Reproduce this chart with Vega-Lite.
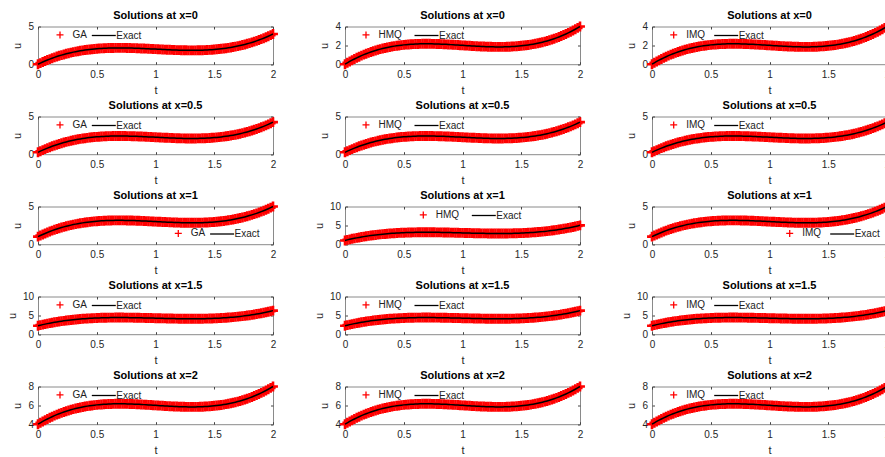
{
"$schema":"https://vega.github.io/schema/vega-lite/v6.json",
"bounds":"flush",
"padding":{"left":5,"top":8.5,"right":0,"bottom":0},
"spacing":90,
"background":"#ffffff",
"resolve":{"scale":{"color":"independent","shape":"independent"},"legend":{"color":"independent","shape":"independent"}},
"data":{"name":"d"},
"datasets":{"d":[
{"t":0,"u0":0,"u05":0.25,"u1":1,"u15":2.25,"u2":4},
{"t":0.02,"u0":0.149,"u05":0.399,"u1":1.149,"u15":2.399,"u2":4.149},
{"t":0.04,"u0":0.291,"u05":0.541,"u1":1.291,"u15":2.541,"u2":4.291},
{"t":0.06,"u0":0.426,"u05":0.676,"u1":1.426,"u15":2.676,"u2":4.426},
{"t":0.08,"u0":0.556,"u05":0.806,"u1":1.556,"u15":2.806,"u2":4.556},
{"t":0.1,"u0":0.679,"u05":0.929,"u1":1.679,"u15":2.929,"u2":4.679},
{"t":0.12,"u0":0.796,"u05":1.046,"u1":1.796,"u15":3.046,"u2":4.796},
{"t":0.14,"u0":0.907,"u05":1.157,"u1":1.907,"u15":3.157,"u2":4.907},
{"t":0.16,"u0":1.012,"u05":1.262,"u1":2.012,"u15":3.262,"u2":5.012},
{"t":0.18,"u0":1.112,"u05":1.362,"u1":2.112,"u15":3.362,"u2":5.112},
{"t":0.2,"u0":1.206,"u05":1.456,"u1":2.206,"u15":3.456,"u2":5.206},
{"t":0.22,"u0":1.295,"u05":1.545,"u1":2.295,"u15":3.545,"u2":5.295},
{"t":0.24,"u0":1.379,"u05":1.629,"u1":2.379,"u15":3.629,"u2":5.379},
{"t":0.26,"u0":1.457,"u05":1.707,"u1":2.457,"u15":3.707,"u2":5.457},
{"t":0.28,"u0":1.531,"u05":1.781,"u1":2.531,"u15":3.781,"u2":5.531},
{"t":0.3,"u0":1.6,"u05":1.85,"u1":2.6,"u15":3.85,"u2":5.6},
{"t":0.32,"u0":1.664,"u05":1.914,"u1":2.664,"u15":3.914,"u2":5.664},
{"t":0.34,"u0":1.723,"u05":1.973,"u1":2.723,"u15":3.973,"u2":5.723},
{"t":0.36,"u0":1.778,"u05":2.028,"u1":2.778,"u15":4.028,"u2":5.778},
{"t":0.38,"u0":1.829,"u05":2.079,"u1":2.829,"u15":4.079,"u2":5.829},
{"t":0.4,"u0":1.875,"u05":2.125,"u1":2.875,"u15":4.125,"u2":5.875},
{"t":0.42,"u0":1.918,"u05":2.168,"u1":2.918,"u15":4.168,"u2":5.918},
{"t":0.44,"u0":1.956,"u05":2.206,"u1":2.956,"u15":4.206,"u2":5.956},
{"t":0.46,"u0":1.991,"u05":2.241,"u1":2.991,"u15":4.241,"u2":5.991},
{"t":0.48,"u0":2.022,"u05":2.272,"u1":3.022,"u15":4.272,"u2":6.022},
{"t":0.5,"u0":2.05,"u05":2.3,"u1":3.05,"u15":4.3,"u2":6.05},
{"t":0.52,"u0":2.074,"u05":2.324,"u1":3.074,"u15":4.324,"u2":6.074},
{"t":0.54,"u0":2.095,"u05":2.345,"u1":3.095,"u15":4.345,"u2":6.095},
{"t":0.56,"u0":2.113,"u05":2.363,"u1":3.113,"u15":4.363,"u2":6.113},
{"t":0.58,"u0":2.129,"u05":2.379,"u1":3.129,"u15":4.379,"u2":6.129},
{"t":0.6,"u0":2.141,"u05":2.391,"u1":3.141,"u15":4.391,"u2":6.141},
{"t":0.62,"u0":2.15,"u05":2.4,"u1":3.15,"u15":4.4,"u2":6.15},
{"t":0.64,"u0":2.157,"u05":2.407,"u1":3.157,"u15":4.407,"u2":6.157},
{"t":0.66,"u0":2.162,"u05":2.412,"u1":3.162,"u15":4.412,"u2":6.162},
{"t":0.68,"u0":2.164,"u05":2.414,"u1":3.164,"u15":4.414,"u2":6.164},
{"t":0.7,"u0":2.164,"u05":2.414,"u1":3.164,"u15":4.414,"u2":6.164},
{"t":0.72,"u0":2.163,"u05":2.413,"u1":3.163,"u15":4.413,"u2":6.163},
{"t":0.74,"u0":2.159,"u05":2.409,"u1":3.159,"u15":4.409,"u2":6.159},
{"t":0.76,"u0":2.153,"u05":2.403,"u1":3.153,"u15":4.403,"u2":6.153},
{"t":0.78,"u0":2.146,"u05":2.396,"u1":3.146,"u15":4.396,"u2":6.146},
{"t":0.8,"u0":2.138,"u05":2.388,"u1":3.138,"u15":4.388,"u2":6.138},
{"t":0.82,"u0":2.128,"u05":2.378,"u1":3.128,"u15":4.378,"u2":6.128},
{"t":0.84,"u0":2.117,"u05":2.367,"u1":3.117,"u15":4.367,"u2":6.117},
{"t":0.86,"u0":2.104,"u05":2.354,"u1":3.104,"u15":4.354,"u2":6.104},
{"t":0.88,"u0":2.091,"u05":2.341,"u1":3.091,"u15":4.341,"u2":6.091},
{"t":0.9,"u0":2.077,"u05":2.327,"u1":3.077,"u15":4.327,"u2":6.077},
{"t":0.92,"u0":2.063,"u05":2.313,"u1":3.063,"u15":4.313,"u2":6.063},
{"t":0.94,"u0":2.047,"u05":2.297,"u1":3.047,"u15":4.297,"u2":6.047},
{"t":0.96,"u0":2.032,"u05":2.282,"u1":3.032,"u15":4.282,"u2":6.032},
{"t":0.98,"u0":2.016,"u05":2.266,"u1":3.016,"u15":4.266,"u2":6.016},
{"t":1,"u0":2,"u05":2.25,"u1":3,"u15":4.25,"u2":6},
{"t":1.02,"u0":1.984,"u05":2.234,"u1":2.984,"u15":4.234,"u2":5.984},
{"t":1.04,"u0":1.968,"u05":2.218,"u1":2.968,"u15":4.218,"u2":5.968},
{"t":1.06,"u0":1.953,"u05":2.203,"u1":2.953,"u15":4.203,"u2":5.953},
{"t":1.08,"u0":1.937,"u05":2.187,"u1":2.937,"u15":4.187,"u2":5.937},
{"t":1.1,"u0":1.923,"u05":2.173,"u1":2.923,"u15":4.173,"u2":5.923},
{"t":1.12,"u0":1.909,"u05":2.159,"u1":2.909,"u15":4.159,"u2":5.909},
{"t":1.14,"u0":1.896,"u05":2.146,"u1":2.896,"u15":4.146,"u2":5.896},
{"t":1.16,"u0":1.883,"u05":2.133,"u1":2.883,"u15":4.133,"u2":5.883},
{"t":1.18,"u0":1.872,"u05":2.122,"u1":2.872,"u15":4.122,"u2":5.872},
{"t":1.2,"u0":1.862,"u05":2.112,"u1":2.862,"u15":4.112,"u2":5.862},
{"t":1.22,"u0":1.854,"u05":2.104,"u1":2.854,"u15":4.104,"u2":5.854},
{"t":1.24,"u0":1.847,"u05":2.097,"u1":2.847,"u15":4.097,"u2":5.847},
{"t":1.26,"u0":1.841,"u05":2.091,"u1":2.841,"u15":4.091,"u2":5.841},
{"t":1.28,"u0":1.837,"u05":2.087,"u1":2.837,"u15":4.087,"u2":5.837},
{"t":1.3,"u0":1.836,"u05":2.086,"u1":2.836,"u15":4.086,"u2":5.836},
{"t":1.32,"u0":1.836,"u05":2.086,"u1":2.836,"u15":4.086,"u2":5.836},
{"t":1.34,"u0":1.838,"u05":2.088,"u1":2.838,"u15":4.088,"u2":5.838},
{"t":1.36,"u0":1.843,"u05":2.093,"u1":2.843,"u15":4.093,"u2":5.843},
{"t":1.38,"u0":1.85,"u05":2.1,"u1":2.85,"u15":4.1,"u2":5.85},
{"t":1.4,"u0":1.859,"u05":2.109,"u1":2.859,"u15":4.109,"u2":5.859},
{"t":1.42,"u0":1.871,"u05":2.121,"u1":2.871,"u15":4.121,"u2":5.871},
{"t":1.44,"u0":1.887,"u05":2.137,"u1":2.887,"u15":4.137,"u2":5.887},
{"t":1.46,"u0":1.905,"u05":2.155,"u1":2.905,"u15":4.155,"u2":5.905},
{"t":1.48,"u0":1.926,"u05":2.176,"u1":2.926,"u15":4.176,"u2":5.926},
{"t":1.5,"u0":1.95,"u05":2.2,"u1":2.95,"u15":4.2,"u2":5.95},
{"t":1.52,"u0":1.978,"u05":2.228,"u1":2.978,"u15":4.228,"u2":5.978},
{"t":1.54,"u0":2.009,"u05":2.259,"u1":3.009,"u15":4.259,"u2":6.009},
{"t":1.56,"u0":2.044,"u05":2.294,"u1":3.044,"u15":4.294,"u2":6.044},
{"t":1.58,"u0":2.082,"u05":2.332,"u1":3.082,"u15":4.332,"u2":6.082},
{"t":1.6,"u0":2.125,"u05":2.375,"u1":3.125,"u15":4.375,"u2":6.125},
{"t":1.62,"u0":2.171,"u05":2.421,"u1":3.171,"u15":4.421,"u2":6.171},
{"t":1.64,"u0":2.222,"u05":2.472,"u1":3.222,"u15":4.472,"u2":6.222},
{"t":1.66,"u0":2.277,"u05":2.527,"u1":3.277,"u15":4.527,"u2":6.277},
{"t":1.68,"u0":2.336,"u05":2.586,"u1":3.336,"u15":4.586,"u2":6.336},
{"t":1.7,"u0":2.4,"u05":2.65,"u1":3.4,"u15":4.65,"u2":6.4},
{"t":1.72,"u0":2.469,"u05":2.719,"u1":3.469,"u15":4.719,"u2":6.469},
{"t":1.74,"u0":2.543,"u05":2.793,"u1":3.543,"u15":4.793,"u2":6.543},
{"t":1.76,"u0":2.621,"u05":2.871,"u1":3.621,"u15":4.871,"u2":6.621},
{"t":1.78,"u0":2.705,"u05":2.955,"u1":3.705,"u15":4.955,"u2":6.705},
{"t":1.8,"u0":2.794,"u05":3.044,"u1":3.794,"u15":5.044,"u2":6.794},
{"t":1.82,"u0":2.888,"u05":3.138,"u1":3.888,"u15":5.138,"u2":6.888},
{"t":1.84,"u0":2.988,"u05":3.238,"u1":3.988,"u15":5.238,"u2":6.988},
{"t":1.86,"u0":3.093,"u05":3.343,"u1":4.093,"u15":5.343,"u2":7.093},
{"t":1.88,"u0":3.204,"u05":3.454,"u1":4.204,"u15":5.454,"u2":7.204},
{"t":1.9,"u0":3.321,"u05":3.571,"u1":4.321,"u15":5.571,"u2":7.321},
{"t":1.92,"u0":3.444,"u05":3.694,"u1":4.444,"u15":5.694,"u2":7.444},
{"t":1.94,"u0":3.574,"u05":3.824,"u1":4.574,"u15":5.824,"u2":7.574},
{"t":1.96,"u0":3.709,"u05":3.959,"u1":4.709,"u15":5.959,"u2":7.709},
{"t":1.98,"u0":3.851,"u05":4.101,"u1":4.851,"u15":6.101,"u2":7.851},
{"t":2,"u0":4,"u05":4.25,"u1":5,"u15":6.25,"u2":8}
]},
"config":{
"font":"Liberation Sans",
"view":{"stroke":"#8a8a8a","strokeWidth":1},
"axis":{"grid":false,"domain":false,"tickColor":"#444444","tickSize":-2.5,"tickWidth":1,"labelFont":"Liberation Sans","labelFontSize":10,"labelColor":"#262626","labelPadding":8,"titleFont":"Liberation Sans","titleFontSize":11,"titleFontWeight":"normal","titleColor":"#262626","labelFlush":false},
"axisX":{"titlePadding":5},
"axisY":{"titlePadding":5,"labelPadding":7},
"title":{"font":"Liberation Sans","fontSize":11,"fontWeight":"bold","color":"#000000","offset":0.8},
"legend":{"orient":"none","direction":"horizontal","padding":0,"labelFont":"Liberation Sans","labelFontSize":10,"labelColor":"#222222","columnPadding":5,"labelOffset":6.5,"symbolSize":100,"symbolStrokeWidth":1.3}
},
"vconcat":[
{"resolve":{"scale":{"color":"independent","shape":"independent"},"legend":{"color":"independent","shape":"independent"}},"hconcat":[
{"width":235,"height":37.7,"title":{"text":"Solutions at x=0","offset":0.8},"resolve":{"axis":{"x":"independent","y":"independent"}},"layer":[
{"mark":{"type":"point","size":200,"filled":false,"strokeWidth":2.6,"opacity":1},"encoding":{"x":{"field":"t","type":"quantitative","scale":{"domain":[0,2],"nice":false},"axis":{"values":[0,0.5,1,1.5,2],"format":"~g","title":"t"}},"y":{"field":"u0","type":"quantitative","scale":{"domain":[0,5],"nice":false},"axis":{"values":[0,5],"title":"u"}},"shape":{"datum":"GA","type":"nominal","scale":{"domain":["GA","Exact"],"range":["M-0.7,0H0.7M0,-0.7V0.7","M-2.4,0H2.4"]},"legend":{"title":null,"legendX":16,"legendY":2,"columnPadding":1.8}},"color":{"datum":"GA","type":"nominal","scale":{"domain":["GA","Exact"],"range":["#ff0000","#000000"]},"legend":{"title":null,"legendX":16,"legendY":2,"columnPadding":1.8,"encode":{"symbols":{"stroke":{"signal":"datum.value === 'Exact' ? '#000000' : '#ff0000'"},"fill":{"value":"transparent"},"strokeWidth":{"value":1.3},"opacity":{"value":1}}}}}}},
{"mark":{"type":"line","strokeWidth":1.5},"encoding":{"x":{"field":"t","type":"quantitative","axis":{"orient":"top","labels":false,"title":null,"values":[0,0.5,1,1.5,2]}},"y":{"field":"u0","type":"quantitative","axis":{"orient":"right","labels":false,"title":null,"values":[0,5]}},"color":{"datum":"Exact","type":"nominal"}}}]},
{"width":235,"height":37.7,"title":{"text":"Solutions at x=0","offset":-4.95},"resolve":{"axis":{"x":"independent","y":"independent"}},"layer":[
{"mark":{"type":"point","size":200,"filled":false,"strokeWidth":2.6,"opacity":1},"encoding":{"x":{"field":"t","type":"quantitative","scale":{"domain":[0,2],"nice":false},"axis":{"values":[0,0.5,1,1.5,2],"format":"~g","title":"t"}},"y":{"field":"u0","type":"quantitative","scale":{"domain":[0,4],"nice":false},"axis":{"values":[0,2,4],"title":"u"}},"shape":{"datum":"HMQ","type":"nominal","scale":{"domain":["HMQ","Exact"],"range":["M-0.7,0H0.7M0,-0.7V0.7","M-2.4,0H2.4"]},"legend":{"title":null,"legendX":15,"legendY":2,"columnPadding":9.5}},"color":{"datum":"HMQ","type":"nominal","scale":{"domain":["HMQ","Exact"],"range":["#ff0000","#000000"]},"legend":{"title":null,"legendX":15,"legendY":2,"columnPadding":9.5,"encode":{"symbols":{"stroke":{"signal":"datum.value === 'Exact' ? '#000000' : '#ff0000'"},"fill":{"value":"transparent"},"strokeWidth":{"value":1.3},"opacity":{"value":1}}}}}}},
{"mark":{"type":"line","strokeWidth":1.5},"encoding":{"x":{"field":"t","type":"quantitative","axis":{"orient":"top","labels":false,"title":null,"values":[0,0.5,1,1.5,2]}},"y":{"field":"u0","type":"quantitative","axis":{"orient":"right","labels":false,"title":null,"values":[0,2,4]}},"color":{"datum":"Exact","type":"nominal"}}}]},
{"width":235,"height":37.7,"title":{"text":"Solutions at x=0","offset":-4.95},"resolve":{"axis":{"x":"independent","y":"independent"}},"layer":[
{"mark":{"type":"point","size":200,"filled":false,"strokeWidth":2.6,"opacity":1},"encoding":{"x":{"field":"t","type":"quantitative","scale":{"domain":[0,2],"nice":false},"axis":{"values":[0,0.5,1,1.5,2],"format":"~g","title":"t"}},"y":{"field":"u0","type":"quantitative","scale":{"domain":[0,4],"nice":false},"axis":{"values":[0,2,4],"title":"u"}},"shape":{"datum":"IMQ","type":"nominal","scale":{"domain":["IMQ","Exact"],"range":["M-0.7,0H0.7M0,-0.7V0.7","M-2.4,0H2.4"]},"legend":{"title":null,"legendX":15.7,"legendY":2,"columnPadding":5.5}},"color":{"datum":"IMQ","type":"nominal","scale":{"domain":["IMQ","Exact"],"range":["#ff0000","#000000"]},"legend":{"title":null,"legendX":15.7,"legendY":2,"columnPadding":5.5,"encode":{"symbols":{"stroke":{"signal":"datum.value === 'Exact' ? '#000000' : '#ff0000'"},"fill":{"value":"transparent"},"strokeWidth":{"value":1.3},"opacity":{"value":1}}}}}}},
{"mark":{"type":"line","strokeWidth":1.5},"encoding":{"x":{"field":"t","type":"quantitative","axis":{"orient":"top","labels":false,"title":null,"values":[0,0.5,1,1.5,2]}},"y":{"field":"u0","type":"quantitative","axis":{"orient":"right","labels":false,"title":null,"values":[0,2,4]}},"color":{"datum":"Exact","type":"nominal"}}}]}
],"spacing":72,"bounds":"flush"},
{"resolve":{"scale":{"color":"independent","shape":"independent"},"legend":{"color":"independent","shape":"independent"}},"hconcat":[
{"width":235,"height":37.7,"title":{"text":"Solutions at x=0.5","offset":0.8},"resolve":{"axis":{"x":"independent","y":"independent"}},"layer":[
{"mark":{"type":"point","size":200,"filled":false,"strokeWidth":2.6,"opacity":1},"encoding":{"x":{"field":"t","type":"quantitative","scale":{"domain":[0,2],"nice":false},"axis":{"values":[0,0.5,1,1.5,2],"format":"~g","title":"t"}},"y":{"field":"u05","type":"quantitative","scale":{"domain":[0,5],"nice":false},"axis":{"values":[0,5],"title":"u"}},"shape":{"datum":"GA","type":"nominal","scale":{"domain":["GA","Exact"],"range":["M-0.7,0H0.7M0,-0.7V0.7","M-2.4,0H2.4"]},"legend":{"title":null,"legendX":16,"legendY":2,"columnPadding":1.8}},"color":{"datum":"GA","type":"nominal","scale":{"domain":["GA","Exact"],"range":["#ff0000","#000000"]},"legend":{"title":null,"legendX":16,"legendY":2,"columnPadding":1.8,"encode":{"symbols":{"stroke":{"signal":"datum.value === 'Exact' ? '#000000' : '#ff0000'"},"fill":{"value":"transparent"},"strokeWidth":{"value":1.3},"opacity":{"value":1}}}}}}},
{"mark":{"type":"line","strokeWidth":1.5},"encoding":{"x":{"field":"t","type":"quantitative","axis":{"orient":"top","labels":false,"title":null,"values":[0,0.5,1,1.5,2]}},"y":{"field":"u05","type":"quantitative","axis":{"orient":"right","labels":false,"title":null,"values":[0,5]}},"color":{"datum":"Exact","type":"nominal"}}}]},
{"width":235,"height":37.7,"title":{"text":"Solutions at x=0.5","offset":0.8},"resolve":{"axis":{"x":"independent","y":"independent"}},"layer":[
{"mark":{"type":"point","size":200,"filled":false,"strokeWidth":2.6,"opacity":1},"encoding":{"x":{"field":"t","type":"quantitative","scale":{"domain":[0,2],"nice":false},"axis":{"values":[0,0.5,1,1.5,2],"format":"~g","title":"t"}},"y":{"field":"u05","type":"quantitative","scale":{"domain":[0,5],"nice":false},"axis":{"values":[0,5],"title":"u"}},"shape":{"datum":"HMQ","type":"nominal","scale":{"domain":["HMQ","Exact"],"range":["M-0.7,0H0.7M0,-0.7V0.7","M-2.4,0H2.4"]},"legend":{"title":null,"legendX":15,"legendY":2,"columnPadding":9.5}},"color":{"datum":"HMQ","type":"nominal","scale":{"domain":["HMQ","Exact"],"range":["#ff0000","#000000"]},"legend":{"title":null,"legendX":15,"legendY":2,"columnPadding":9.5,"encode":{"symbols":{"stroke":{"signal":"datum.value === 'Exact' ? '#000000' : '#ff0000'"},"fill":{"value":"transparent"},"strokeWidth":{"value":1.3},"opacity":{"value":1}}}}}}},
{"mark":{"type":"line","strokeWidth":1.5},"encoding":{"x":{"field":"t","type":"quantitative","axis":{"orient":"top","labels":false,"title":null,"values":[0,0.5,1,1.5,2]}},"y":{"field":"u05","type":"quantitative","axis":{"orient":"right","labels":false,"title":null,"values":[0,5]}},"color":{"datum":"Exact","type":"nominal"}}}]},
{"width":235,"height":37.7,"title":{"text":"Solutions at x=0.5","offset":0.8},"resolve":{"axis":{"x":"independent","y":"independent"}},"layer":[
{"mark":{"type":"point","size":200,"filled":false,"strokeWidth":2.6,"opacity":1},"encoding":{"x":{"field":"t","type":"quantitative","scale":{"domain":[0,2],"nice":false},"axis":{"values":[0,0.5,1,1.5,2],"format":"~g","title":"t"}},"y":{"field":"u05","type":"quantitative","scale":{"domain":[0,5],"nice":false},"axis":{"values":[0,5],"title":"u"}},"shape":{"datum":"IMQ","type":"nominal","scale":{"domain":["IMQ","Exact"],"range":["M-0.7,0H0.7M0,-0.7V0.7","M-2.4,0H2.4"]},"legend":{"title":null,"legendX":15.7,"legendY":2,"columnPadding":5.5}},"color":{"datum":"IMQ","type":"nominal","scale":{"domain":["IMQ","Exact"],"range":["#ff0000","#000000"]},"legend":{"title":null,"legendX":15.7,"legendY":2,"columnPadding":5.5,"encode":{"symbols":{"stroke":{"signal":"datum.value === 'Exact' ? '#000000' : '#ff0000'"},"fill":{"value":"transparent"},"strokeWidth":{"value":1.3},"opacity":{"value":1}}}}}}},
{"mark":{"type":"line","strokeWidth":1.5},"encoding":{"x":{"field":"t","type":"quantitative","axis":{"orient":"top","labels":false,"title":null,"values":[0,0.5,1,1.5,2]}},"y":{"field":"u05","type":"quantitative","axis":{"orient":"right","labels":false,"title":null,"values":[0,5]}},"color":{"datum":"Exact","type":"nominal"}}}]}
],"spacing":72,"bounds":"flush"},
{"resolve":{"scale":{"color":"independent","shape":"independent"},"legend":{"color":"independent","shape":"independent"}},"hconcat":[
{"width":235,"height":37.7,"title":{"text":"Solutions at x=1","offset":-4.95},"resolve":{"axis":{"x":"independent","y":"independent"}},"layer":[
{"mark":{"type":"point","size":200,"filled":false,"strokeWidth":2.6,"opacity":1},"encoding":{"x":{"field":"t","type":"quantitative","scale":{"domain":[0,2],"nice":false},"axis":{"values":[0,0.5,1,1.5,2],"format":"~g","title":"t"}},"y":{"field":"u1","type":"quantitative","scale":{"domain":[0,5],"nice":false},"axis":{"values":[0,5],"title":"u"}},"shape":{"datum":"GA","type":"nominal","scale":{"domain":["GA","Exact"],"range":["M-0.7,0H0.7M0,-0.7V0.7","M-2.4,0H2.4"]},"legend":{"title":null,"legendX":134.3,"legendY":20.5,"columnPadding":1.8}},"color":{"datum":"GA","type":"nominal","scale":{"domain":["GA","Exact"],"range":["#ff0000","#000000"]},"legend":{"title":null,"legendX":134.3,"legendY":20.5,"columnPadding":1.8,"encode":{"symbols":{"stroke":{"signal":"datum.value === 'Exact' ? '#000000' : '#ff0000'"},"fill":{"value":"transparent"},"strokeWidth":{"value":1.3},"opacity":{"value":1}}}}}}},
{"mark":{"type":"line","strokeWidth":1.5},"encoding":{"x":{"field":"t","type":"quantitative","axis":{"orient":"top","labels":false,"title":null,"values":[0,0.5,1,1.5,2]}},"y":{"field":"u1","type":"quantitative","axis":{"orient":"right","labels":false,"title":null,"values":[0,5]}},"color":{"datum":"Exact","type":"nominal"}}}]},
{"width":235,"height":37.7,"title":{"text":"Solutions at x=1","offset":0.8},"resolve":{"axis":{"x":"independent","y":"independent"}},"layer":[
{"mark":{"type":"point","size":200,"filled":false,"strokeWidth":2.6,"opacity":1},"encoding":{"x":{"field":"t","type":"quantitative","scale":{"domain":[0,2],"nice":false},"axis":{"values":[0,0.5,1,1.5,2],"format":"~g","title":"t"}},"y":{"field":"u1","type":"quantitative","scale":{"domain":[0,10],"nice":false},"axis":{"values":[0,5,10],"title":"u"}},"shape":{"datum":"HMQ","type":"nominal","scale":{"domain":["HMQ","Exact"],"range":["M-0.7,0H0.7M0,-0.7V0.7","M-2.4,0H2.4"]},"legend":{"title":null,"legendX":72.3,"legendY":2,"columnPadding":9.5}},"color":{"datum":"HMQ","type":"nominal","scale":{"domain":["HMQ","Exact"],"range":["#ff0000","#000000"]},"legend":{"title":null,"legendX":72.3,"legendY":2,"columnPadding":9.5,"encode":{"symbols":{"stroke":{"signal":"datum.value === 'Exact' ? '#000000' : '#ff0000'"},"fill":{"value":"transparent"},"strokeWidth":{"value":1.3},"opacity":{"value":1}}}}}}},
{"mark":{"type":"line","strokeWidth":1.5},"encoding":{"x":{"field":"t","type":"quantitative","axis":{"orient":"top","labels":false,"title":null,"values":[0,0.5,1,1.5,2]}},"y":{"field":"u1","type":"quantitative","axis":{"orient":"right","labels":false,"title":null,"values":[0,5,10]}},"color":{"datum":"Exact","type":"nominal"}}}]},
{"width":235,"height":37.7,"title":{"text":"Solutions at x=1","offset":-4.95},"resolve":{"axis":{"x":"independent","y":"independent"}},"layer":[
{"mark":{"type":"point","size":200,"filled":false,"strokeWidth":2.6,"opacity":1},"encoding":{"x":{"field":"t","type":"quantitative","scale":{"domain":[0,2],"nice":false},"axis":{"values":[0,0.5,1,1.5,2],"format":"~g","title":"t"}},"y":{"field":"u1","type":"quantitative","scale":{"domain":[0,5],"nice":false},"axis":{"values":[0,5],"title":"u"}},"shape":{"datum":"IMQ","type":"nominal","scale":{"domain":["IMQ","Exact"],"range":["M-0.7,0H0.7M0,-0.7V0.7","M-2.4,0H2.4"]},"legend":{"title":null,"legendX":131.7,"legendY":20.5,"columnPadding":5.5}},"color":{"datum":"IMQ","type":"nominal","scale":{"domain":["IMQ","Exact"],"range":["#ff0000","#000000"]},"legend":{"title":null,"legendX":131.7,"legendY":20.5,"columnPadding":5.5,"encode":{"symbols":{"stroke":{"signal":"datum.value === 'Exact' ? '#000000' : '#ff0000'"},"fill":{"value":"transparent"},"strokeWidth":{"value":1.3},"opacity":{"value":1}}}}}}},
{"mark":{"type":"line","strokeWidth":1.5},"encoding":{"x":{"field":"t","type":"quantitative","axis":{"orient":"top","labels":false,"title":null,"values":[0,0.5,1,1.5,2]}},"y":{"field":"u1","type":"quantitative","axis":{"orient":"right","labels":false,"title":null,"values":[0,5]}},"color":{"datum":"Exact","type":"nominal"}}}]}
],"spacing":72,"bounds":"flush"},
{"resolve":{"scale":{"color":"independent","shape":"independent"},"legend":{"color":"independent","shape":"independent"}},"hconcat":[
{"width":235,"height":37.7,"title":{"text":"Solutions at x=1.5","offset":0.8},"resolve":{"axis":{"x":"independent","y":"independent"}},"layer":[
{"mark":{"type":"point","size":200,"filled":false,"strokeWidth":2.6,"opacity":1},"encoding":{"x":{"field":"t","type":"quantitative","scale":{"domain":[0,2],"nice":false},"axis":{"values":[0,0.5,1,1.5,2],"format":"~g","title":"t"}},"y":{"field":"u15","type":"quantitative","scale":{"domain":[0,10],"nice":false},"axis":{"values":[0,5,10],"title":"u"}},"shape":{"datum":"GA","type":"nominal","scale":{"domain":["GA","Exact"],"range":["M-0.7,0H0.7M0,-0.7V0.7","M-2.4,0H2.4"]},"legend":{"title":null,"legendX":16,"legendY":2,"columnPadding":1.8}},"color":{"datum":"GA","type":"nominal","scale":{"domain":["GA","Exact"],"range":["#ff0000","#000000"]},"legend":{"title":null,"legendX":16,"legendY":2,"columnPadding":1.8,"encode":{"symbols":{"stroke":{"signal":"datum.value === 'Exact' ? '#000000' : '#ff0000'"},"fill":{"value":"transparent"},"strokeWidth":{"value":1.3},"opacity":{"value":1}}}}}}},
{"mark":{"type":"line","strokeWidth":1.5},"encoding":{"x":{"field":"t","type":"quantitative","axis":{"orient":"top","labels":false,"title":null,"values":[0,0.5,1,1.5,2]}},"y":{"field":"u15","type":"quantitative","axis":{"orient":"right","labels":false,"title":null,"values":[0,5,10]}},"color":{"datum":"Exact","type":"nominal"}}}]},
{"width":235,"height":37.7,"title":{"text":"Solutions at x=1.5","offset":0.8},"resolve":{"axis":{"x":"independent","y":"independent"}},"layer":[
{"mark":{"type":"point","size":200,"filled":false,"strokeWidth":2.6,"opacity":1},"encoding":{"x":{"field":"t","type":"quantitative","scale":{"domain":[0,2],"nice":false},"axis":{"values":[0,0.5,1,1.5,2],"format":"~g","title":"t"}},"y":{"field":"u15","type":"quantitative","scale":{"domain":[0,10],"nice":false},"axis":{"values":[0,5,10],"title":"u"}},"shape":{"datum":"HMQ","type":"nominal","scale":{"domain":["HMQ","Exact"],"range":["M-0.7,0H0.7M0,-0.7V0.7","M-2.4,0H2.4"]},"legend":{"title":null,"legendX":15,"legendY":2,"columnPadding":9.5}},"color":{"datum":"HMQ","type":"nominal","scale":{"domain":["HMQ","Exact"],"range":["#ff0000","#000000"]},"legend":{"title":null,"legendX":15,"legendY":2,"columnPadding":9.5,"encode":{"symbols":{"stroke":{"signal":"datum.value === 'Exact' ? '#000000' : '#ff0000'"},"fill":{"value":"transparent"},"strokeWidth":{"value":1.3},"opacity":{"value":1}}}}}}},
{"mark":{"type":"line","strokeWidth":1.5},"encoding":{"x":{"field":"t","type":"quantitative","axis":{"orient":"top","labels":false,"title":null,"values":[0,0.5,1,1.5,2]}},"y":{"field":"u15","type":"quantitative","axis":{"orient":"right","labels":false,"title":null,"values":[0,5,10]}},"color":{"datum":"Exact","type":"nominal"}}}]},
{"width":235,"height":37.7,"title":{"text":"Solutions at x=1.5","offset":0.8},"resolve":{"axis":{"x":"independent","y":"independent"}},"layer":[
{"mark":{"type":"point","size":200,"filled":false,"strokeWidth":2.6,"opacity":1},"encoding":{"x":{"field":"t","type":"quantitative","scale":{"domain":[0,2],"nice":false},"axis":{"values":[0,0.5,1,1.5,2],"format":"~g","title":"t"}},"y":{"field":"u15","type":"quantitative","scale":{"domain":[0,10],"nice":false},"axis":{"values":[0,5,10],"title":"u"}},"shape":{"datum":"IMQ","type":"nominal","scale":{"domain":["IMQ","Exact"],"range":["M-0.7,0H0.7M0,-0.7V0.7","M-2.4,0H2.4"]},"legend":{"title":null,"legendX":15.7,"legendY":2,"columnPadding":5.5}},"color":{"datum":"IMQ","type":"nominal","scale":{"domain":["IMQ","Exact"],"range":["#ff0000","#000000"]},"legend":{"title":null,"legendX":15.7,"legendY":2,"columnPadding":5.5,"encode":{"symbols":{"stroke":{"signal":"datum.value === 'Exact' ? '#000000' : '#ff0000'"},"fill":{"value":"transparent"},"strokeWidth":{"value":1.3},"opacity":{"value":1}}}}}}},
{"mark":{"type":"line","strokeWidth":1.5},"encoding":{"x":{"field":"t","type":"quantitative","axis":{"orient":"top","labels":false,"title":null,"values":[0,0.5,1,1.5,2]}},"y":{"field":"u15","type":"quantitative","axis":{"orient":"right","labels":false,"title":null,"values":[0,5,10]}},"color":{"datum":"Exact","type":"nominal"}}}]}
],"spacing":72,"bounds":"flush"},
{"resolve":{"scale":{"color":"independent","shape":"independent"},"legend":{"color":"independent","shape":"independent"}},"hconcat":[
{"width":235,"height":37.7,"title":{"text":"Solutions at x=2","offset":-4.95},"resolve":{"axis":{"x":"independent","y":"independent"}},"layer":[
{"mark":{"type":"point","size":200,"filled":false,"strokeWidth":2.6,"opacity":1},"encoding":{"x":{"field":"t","type":"quantitative","scale":{"domain":[0,2],"nice":false},"axis":{"values":[0,0.5,1,1.5,2],"format":"~g","title":"t"}},"y":{"field":"u2","type":"quantitative","scale":{"domain":[4,8],"nice":false,"zero":false},"axis":{"values":[4,6,8],"title":"u"}},"shape":{"datum":"GA","type":"nominal","scale":{"domain":["GA","Exact"],"range":["M-0.7,0H0.7M0,-0.7V0.7","M-2.4,0H2.4"]},"legend":{"title":null,"legendX":16,"legendY":2,"columnPadding":1.8}},"color":{"datum":"GA","type":"nominal","scale":{"domain":["GA","Exact"],"range":["#ff0000","#000000"]},"legend":{"title":null,"legendX":16,"legendY":2,"columnPadding":1.8,"encode":{"symbols":{"stroke":{"signal":"datum.value === 'Exact' ? '#000000' : '#ff0000'"},"fill":{"value":"transparent"},"strokeWidth":{"value":1.3},"opacity":{"value":1}}}}}}},
{"mark":{"type":"line","strokeWidth":1.5},"encoding":{"x":{"field":"t","type":"quantitative","axis":{"orient":"top","labels":false,"title":null,"values":[0,0.5,1,1.5,2]}},"y":{"field":"u2","type":"quantitative","axis":{"orient":"right","labels":false,"title":null,"values":[4,6,8]}},"color":{"datum":"Exact","type":"nominal"}}}]},
{"width":235,"height":37.7,"title":{"text":"Solutions at x=2","offset":-4.95},"resolve":{"axis":{"x":"independent","y":"independent"}},"layer":[
{"mark":{"type":"point","size":200,"filled":false,"strokeWidth":2.6,"opacity":1},"encoding":{"x":{"field":"t","type":"quantitative","scale":{"domain":[0,2],"nice":false},"axis":{"values":[0,0.5,1,1.5,2],"format":"~g","title":"t"}},"y":{"field":"u2","type":"quantitative","scale":{"domain":[4,8],"nice":false,"zero":false},"axis":{"values":[4,6,8],"title":"u"}},"shape":{"datum":"HMQ","type":"nominal","scale":{"domain":["HMQ","Exact"],"range":["M-0.7,0H0.7M0,-0.7V0.7","M-2.4,0H2.4"]},"legend":{"title":null,"legendX":15,"legendY":2,"columnPadding":9.5}},"color":{"datum":"HMQ","type":"nominal","scale":{"domain":["HMQ","Exact"],"range":["#ff0000","#000000"]},"legend":{"title":null,"legendX":15,"legendY":2,"columnPadding":9.5,"encode":{"symbols":{"stroke":{"signal":"datum.value === 'Exact' ? '#000000' : '#ff0000'"},"fill":{"value":"transparent"},"strokeWidth":{"value":1.3},"opacity":{"value":1}}}}}}},
{"mark":{"type":"line","strokeWidth":1.5},"encoding":{"x":{"field":"t","type":"quantitative","axis":{"orient":"top","labels":false,"title":null,"values":[0,0.5,1,1.5,2]}},"y":{"field":"u2","type":"quantitative","axis":{"orient":"right","labels":false,"title":null,"values":[4,6,8]}},"color":{"datum":"Exact","type":"nominal"}}}]},
{"width":235,"height":37.7,"title":{"text":"Solutions at x=2","offset":-4.95},"resolve":{"axis":{"x":"independent","y":"independent"}},"layer":[
{"mark":{"type":"point","size":200,"filled":false,"strokeWidth":2.6,"opacity":1},"encoding":{"x":{"field":"t","type":"quantitative","scale":{"domain":[0,2],"nice":false},"axis":{"values":[0,0.5,1,1.5,2],"format":"~g","title":"t"}},"y":{"field":"u2","type":"quantitative","scale":{"domain":[4,8],"nice":false,"zero":false},"axis":{"values":[4,6,8],"title":"u"}},"shape":{"datum":"IMQ","type":"nominal","scale":{"domain":["IMQ","Exact"],"range":["M-0.7,0H0.7M0,-0.7V0.7","M-2.4,0H2.4"]},"legend":{"title":null,"legendX":15.7,"legendY":2,"columnPadding":5.5}},"color":{"datum":"IMQ","type":"nominal","scale":{"domain":["IMQ","Exact"],"range":["#ff0000","#000000"]},"legend":{"title":null,"legendX":15.7,"legendY":2,"columnPadding":5.5,"encode":{"symbols":{"stroke":{"signal":"datum.value === 'Exact' ? '#000000' : '#ff0000'"},"fill":{"value":"transparent"},"strokeWidth":{"value":1.3},"opacity":{"value":1}}}}}}},
{"mark":{"type":"line","strokeWidth":1.5},"encoding":{"x":{"field":"t","type":"quantitative","axis":{"orient":"top","labels":false,"title":null,"values":[0,0.5,1,1.5,2]}},"y":{"field":"u2","type":"quantitative","axis":{"orient":"right","labels":false,"title":null,"values":[4,6,8]}},"color":{"datum":"Exact","type":"nominal"}}}]}
],"spacing":72,"bounds":"flush"}
]
}
